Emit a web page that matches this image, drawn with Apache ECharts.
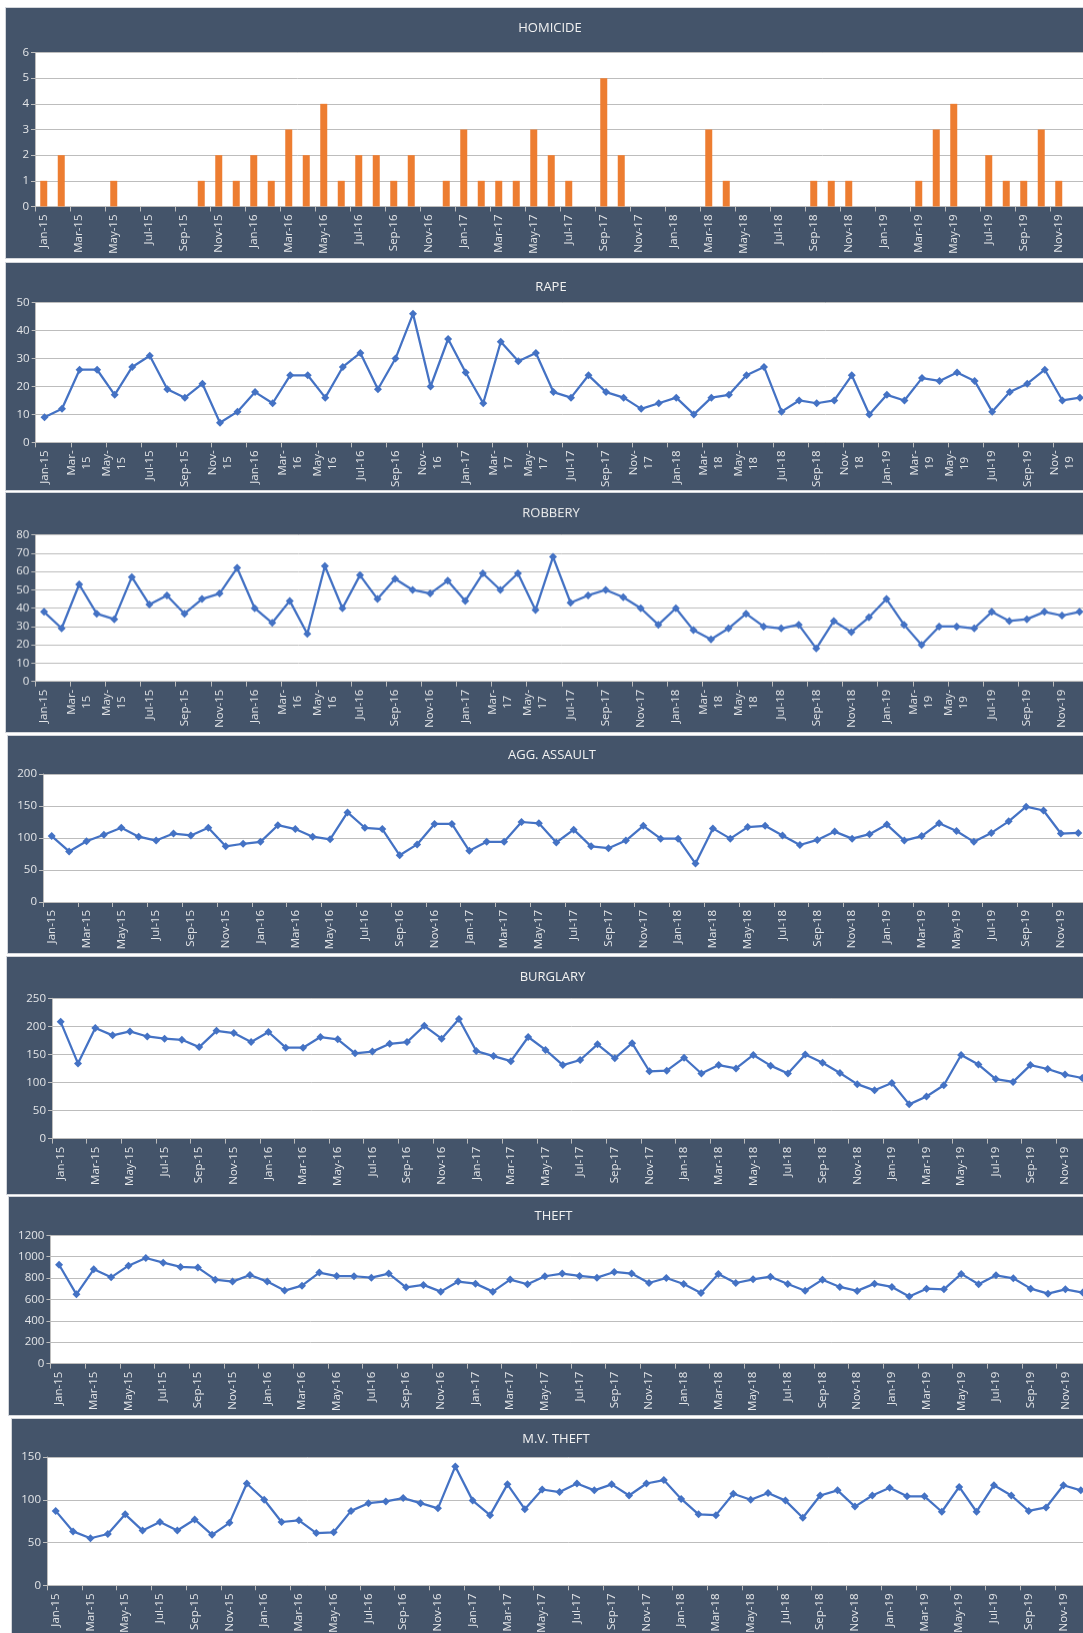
<!DOCTYPE html>
<html>
<head>
<meta charset="utf-8">
<script src="https://cdn.jsdelivr.net/npm/echarts@6/dist/echarts.min.js"></script>
<style>
html, body { margin: 0; padding: 0; background: #ffffff; width: 1083px; height: 1633px; overflow: hidden; position: relative; }
.panel { position: absolute; background: #44546A; box-shadow: 0 0 0 1px #D3D6DB; }
</style>
</head>
<body>
<div id="p0" class="panel"></div>
<div id="p1" class="panel"></div>
<div id="p2" class="panel"></div>
<div id="p3" class="panel"></div>
<div id="p4" class="panel"></div>
<div id="p5" class="panel"></div>
<div id="p6" class="panel"></div>
<script>
// ---------- DATA ----------
const months = [
  'Jan-15','Feb-15','Mar-15','Apr-15','May-15','Jun-15','Jul-15','Aug-15','Sep-15','Oct-15','Nov-15','Dec-15',
  'Jan-16','Feb-16','Mar-16','Apr-16','May-16','Jun-16','Jul-16','Aug-16','Sep-16','Oct-16','Nov-16','Dec-16',
  'Jan-17','Feb-17','Mar-17','Apr-17','May-17','Jun-17','Jul-17','Aug-17','Sep-17','Oct-17','Nov-17','Dec-17',
  'Jan-18','Feb-18','Mar-18','Apr-18','May-18','Jun-18','Jul-18','Aug-18','Sep-18','Oct-18','Nov-18','Dec-18',
  'Jan-19','Feb-19','Mar-19','Apr-19','May-19','Jun-19','Jul-19','Aug-19','Sep-19','Oct-19','Nov-19','Dec-19'
];

const homicide = [
  1,2,0,0,1,0,0,0,0,1,2,1,
  2,1,3,2,4,1,2,2,1,2,0,1,
  3,1,1,1,3,2,1,0,5,2,0,0,
  0,0,3,1,0,0,0,0,1,1,1,0,
  0,0,1,3,4,0,2,1,1,3,1,0
];

const rape = [
  9,12,26,26,17,27,31,19,16,21,7,11,
  18,14,24,24,16,27,32,19,30,46,20,37,
  25,14,36,29,32,18,16,24,18,16,12,14,
  16,10,16,17,24,27,11,15,14,15,24,10,
  17,15,23,22,25,22,11,18,21,26,15,16
];

const robbery = [
  38,29,53,37,34,57,42,47,37,45,48,62,
  40,32,44,26,63,40,58,45,56,50,48,55,
  44,59,50,59,39,68,43,47,50,46,40,31,
  40,28,23,29,37,30,29,31,18,33,27,35,
  45,31,20,30,30,29,38,33,34,38,36,38
];

const aggAssault = [
  103,79,95,105,116,102,96,107,104,116,87,91,
  94,120,114,102,98,140,116,114,73,90,122,122,
  80,94,94,125,123,93,113,87,84,96,119,99,
  99,60,115,99,117,119,104,89,97,110,99,106,
  121,96,103,123,111,94,108,126,149,143,107,108
];

const burglary = [
  208,134,197,184,191,182,178,176,163,192,188,172,
  190,162,162,181,177,152,155,169,172,201,178,213,
  156,147,138,181,158,131,140,168,143,170,120,121,
  144,116,131,125,149,130,116,150,135,117,97,86,
  99,61,75,95,149,132,106,101,131,124,114,108
];

const theft = [
  925,648,882,807,916,988,944,904,898,785,767,829,
  767,683,729,851,819,817,804,842,714,736,673,767,
  748,673,786,742,817,842,820,804,857,842,754,801,
  745,661,839,754,788,813,745,682,785,717,680,748,
  717,627,701,695,839,742,826,798,701,654,695,664
];

const mvTheft = [
  87,63,55,60,83,64,74,64,77,59,73,119,
  100,74,76,61,62,87,96,98,102,96,90,139,
  99,82,118,89,112,109,119,111,118,105,119,123,
  101,83,82,107,100,108,99,79,105,111,92,105,
  114,104,104,86,115,86,117,105,87,91,117,111
];

const titles = ['HOMICIDE', 'RAPE', 'ROBBERY', 'AGG. ASSAULT', 'BURGLARY', 'THEFT', 'M.V. THEFT'];
const yMaxes = [6, 50, 80, 200, 250, 1200, 150];
const ySteps = [1, 10, 10, 50, 50, 200, 50];
// months whose tick label wraps onto two lines, per panel
const wrapMonths = [[], ['Mar', 'May', 'Nov'], ['Mar', 'May'], [], [], [], []];

// ---------- LAYOUT (px) ----------
const layout = [
  { left: 6,    top: 7.5,    width: 1088, height: 250.5, gl: 29,   gt: 44.5, gw: 1050,   gh: 154,   ty: 20.5 },
  { left: 6,    top: 263,    width: 1090, height: 227,   gl: 29.7, gt: 39.7, gw: 1053,   gh: 140,   ty: 24.4 },
  { left: 6,    top: 493.3,  width: 1090, height: 238.4, gl: 29.3, gt: 41.7, gw: 1053,   gh: 146,   ty: 20.5 },
  { left: 8,    top: 736,    width: 1088, height: 217,   gl: 35,   gt: 38,   gw: 1044,   gh: 128,   ty: 20   },
  { left: 7.3,  top: 956.7,  width: 1091, height: 237.3, gl: 45,   gt: 41.3, gw: 1039,   gh: 140.3, ty: 20.6 },
  { left: 9.3,  top: 1196.7, width: 1089, height: 218.3, gl: 41.4, gt: 38.3, gw: 1041,   gh: 128.3, ty: 19.5 },
  { left: 12,   top: 1418.7, width: 1088, height: 220,   gl: 35,   gt: 38,   gw: 1042.5, gh: 128.3, ty: 20.3 }
];

const seriesData = [homicide, rape, robbery, aggAssault, burglary, theft, mvTheft];

const FONT = "'Open Sans', 'Noto Sans', sans-serif";
const LABEL_COLOR = '#E3E5E8';
const GRID_COLOR = '#BDBDBD';

function makeFormatter(wrap) {
  return function (v) {
    const m = v.slice(0, 3);
    const lines = wrap.indexOf(m) >= 0 ? [v.slice(0, 4), v.slice(4)] : [v];
    return lines.map(s => '{c|' + s + '}').join('\n');
  };
}

seriesData.forEach((data, i) => {
  const L = layout[i];
  const el = document.getElementById('p' + i);
  el.style.left = L.left + 'px';
  el.style.top = L.top + 'px';
  el.style.width = L.width + 'px';
  el.style.height = L.height + 'px';
  const chart = echarts.init(el, null, { renderer: 'canvas', width: L.width, height: L.height });

  const series = i === 0
    ? { type: 'bar', data: data, barWidth: 7, itemStyle: { color: '#ED7D31' } }
    : { type: 'line', data: data, symbol: 'diamond', symbolSize: 8,
        lineStyle: { width: 2.25, color: '#4472C4' }, itemStyle: { color: '#4472C4' } };

  chart.setOption({
    animation: false,
    backgroundColor: '#44546A',
    title: {
      text: titles[i], left: 'center', top: L.ty - 7, padding: 0,
      textStyle: { color: '#F2F2F2', fontSize: 13, fontWeight: 'normal', fontFamily: FONT }
    },
    grid: {
      left: L.gl, top: L.gt, width: L.gw, height: L.gh,
      show: true, backgroundColor: '#FFFFFF', borderWidth: 0, containLabel: false
    },
    xAxis: {
      type: 'category', data: months, boundaryGap: true,
      axisLine: { show: true, lineStyle: { color: GRID_COLOR, width: 1 } },
      axisTick: { show: true, interval: 1, length: 5, lineStyle: { color: GRID_COLOR } },
      axisLabel: {
        interval: 1, rotate: 90, margin: 8,
        color: LABEL_COLOR, fontSize: 11.5, fontFamily: FONT,
        formatter: makeFormatter(wrapMonths[i]),
        rich: { c: { align: 'center', color: LABEL_COLOR, fontSize: 11.5, fontFamily: FONT, lineHeight: 15 } }
      },
      splitLine: { show: false }
    },
    yAxis: {
      type: 'value', min: 0, max: yMaxes[i], interval: ySteps[i],
      axisLine: { show: true, lineStyle: { color: GRID_COLOR, width: 1 } },
      axisTick: { show: true, length: 4, lineStyle: { color: GRID_COLOR } },
      axisLabel: { margin: 6, color: LABEL_COLOR, fontSize: 11.5, fontFamily: FONT,
                   formatter: function (v) { return String(v); } },
      splitLine: { show: true, lineStyle: { color: GRID_COLOR, width: 1 } }
    },
    series: [series]
  });
});
</script>
</body>
</html>
